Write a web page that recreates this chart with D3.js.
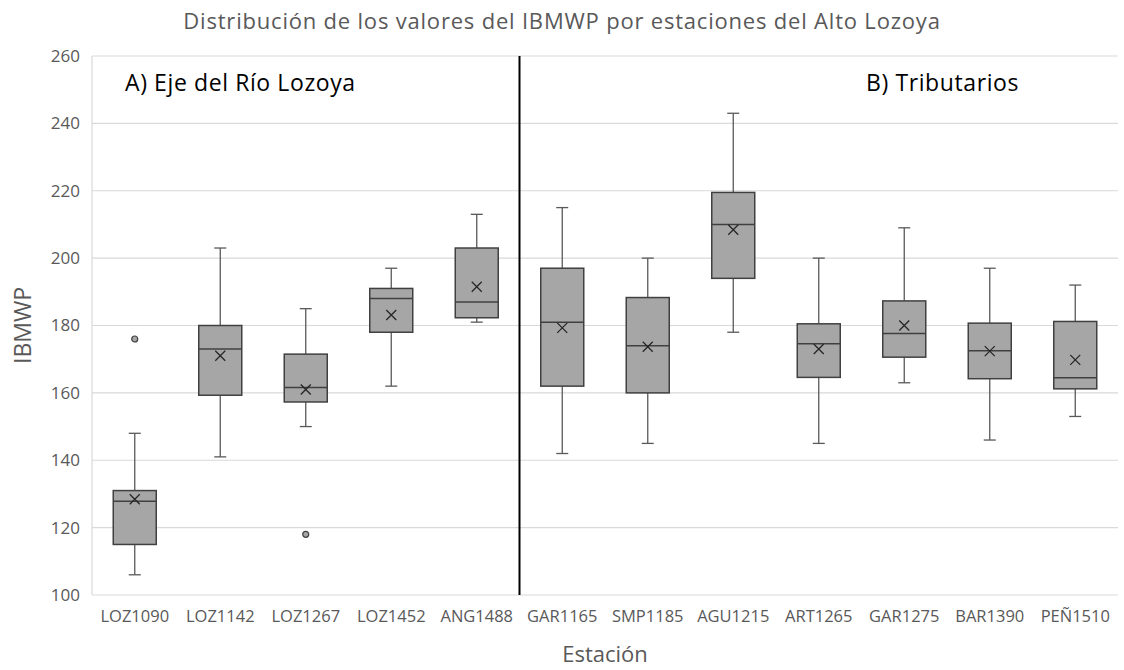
<!DOCTYPE html>
<html lang="es">
<head>
<meta charset="UTF-8">
<title>IBMWP Alto Lozoya</title>
<script src="https://d3js.org/d3.v7.min.js"></script>
<style>
  body { margin: 0; background: #fff; }
  text { font-family: "Open Sans", "Noto Sans", sans-serif; }
</style>
</head>
<body>
<div id="chart"></div>
<script>
// estaciones y estadisticos
const stations = ["LOZ1090", "LOZ1142", "LOZ1267", "LOZ1452", "ANG1488", "GAR1165",
                  "SMP1185", "AGU1215", "ART1265", "GAR1275", "BAR1390", "PEÑ1510"];
const whiskerLow  = [106, 141, 150, 162, 181, 142, 145, 178, 145, 163, 146, 153];
const q1          = [115, 159.3, 157.3, 178, 182.3, 162, 160, 194, 164.6, 170.6, 164.2, 161.2];
const median      = [127.8, 173, 161.6, 188, 187, 181, 174, 210, 174.6, 177.6, 172.5, 164.5];
const q3          = [131, 180, 171.5, 191, 203, 197, 188.3, 219.5, 180.5, 187.3, 180.7, 181.2];
const whiskerHigh = [148, 203, 185, 197, 213, 215, 200, 243, 200, 209, 197, 192];
const mean        = [128.4, 171, 161, 183.1, 191.5, 179.3, 173.7, 208.4, 173, 180, 172.4, 169.8];
const outliers    = [[176], [], [118], [], [], [], [], [], [], [], [], []];
const yTicks = [100, 120, 140, 160, 180, 200, 220, 240, 260];

const width = 1124, height = 670;
const margin = {top: 56, right: 6, bottom: 75, left: 92};

const svg = d3.select("#chart").append("svg")
    .attr("width", width)
    .attr("height", height);

const x = d3.scaleBand()
    .domain(stations)
    .range([margin.left, width - margin.right]);

const y = d3.scaleLinear()
    .domain([100, 260])
    .range([height - margin.bottom, margin.top]);

// rejilla
svg.append("g")
    .selectAll("line")
    .data(yTicks)
    .join("line")
    .attr("x1", margin.left)
    .attr("x2", width - margin.right)
    .attr("y1", d => y(d))
    .attr("y2", d => y(d))
    .attr("stroke", "#d9d9d9")
    .attr("stroke-width", 1.2);

svg.append("line")
    .attr("x1", margin.left).attr("x2", margin.left)
    .attr("y1", y(260)).attr("y2", y(100))
    .attr("stroke", "#d9d9d9")
    .attr("stroke-width", 1.2);

// eje y
const yAxis = svg.append("g")
    .attr("transform", `translate(${margin.left},0)`)
    .call(d3.axisLeft(y).tickValues(yTicks).tickSize(0).tickPadding(12));
yAxis.select(".domain").remove();
yAxis.selectAll("text")
    .attr("fill", "#595959")
    .style("font-size", "17px")
    .style("font-family", "'Open Sans', sans-serif");

// eje x
const xAxis = svg.append("g")
    .attr("transform", `translate(0,${y(100)})`)
    .call(d3.axisBottom(x).tickSize(0).tickPadding(15));
xAxis.select(".domain").remove();
xAxis.selectAll("text")
    .attr("fill", "#595959")
    .style("font-size", "16.5px")
    .style("font-family", "'Open Sans', sans-serif");

// separador entre grupos
const sepX = x("GAR1165");
svg.append("line")
    .attr("x1", sepX).attr("x2", sepX)
    .attr("y1", y(260)).attr("y2", y(100))
    .attr("stroke", "#000")
    .attr("stroke-width", 2);

const boxW = 43, capW = 12;
const boxes = svg.append("g")
    .selectAll("g")
    .data(stations)
    .join("g")
    .attr("transform", d => `translate(${x(d) + x.bandwidth() / 2},0)`);

// bigotes
boxes.append("line")
    .attr("y1", (d, i) => y(whiskerHigh[i]))
    .attr("y2", (d, i) => y(q3[i]))
    .attr("stroke", "#595959").attr("stroke-width", 1.3);
boxes.append("line")
    .attr("y1", (d, i) => y(q1[i]))
    .attr("y2", (d, i) => y(whiskerLow[i]))
    .attr("stroke", "#595959").attr("stroke-width", 1.3);
boxes.append("line")
    .attr("x1", -capW / 2).attr("x2", capW / 2)
    .attr("y1", (d, i) => y(whiskerHigh[i]))
    .attr("y2", (d, i) => y(whiskerHigh[i]))
    .attr("stroke", "#595959").attr("stroke-width", 1.3);
boxes.append("line")
    .attr("x1", -capW / 2).attr("x2", capW / 2)
    .attr("y1", (d, i) => y(whiskerLow[i]))
    .attr("y2", (d, i) => y(whiskerLow[i]))
    .attr("stroke", "#595959").attr("stroke-width", 1.3);

// cajas
boxes.append("rect")
    .attr("x", -boxW / 2)
    .attr("width", boxW)
    .attr("y", (d, i) => y(q3[i]))
    .attr("height", (d, i) => y(q1[i]) - y(q3[i]))
    .attr("fill", "#a6a6a6")
    .attr("stroke", "#404040")
    .attr("stroke-width", 1.5);

boxes.append("line")
    .attr("x1", -boxW / 2).attr("x2", boxW / 2)
    .attr("y1", (d, i) => y(median[i]))
    .attr("y2", (d, i) => y(median[i]))
    .attr("stroke", "#404040").attr("stroke-width", 1.5);

// media (X)
const m = 5;
boxes.append("path")
    .attr("d", (d, i) => {
        const cy = y(mean[i]);
        return `M${-m},${cy - m}L${m},${cy + m}M${-m},${cy + m}L${m},${cy - m}`;
    })
    .attr("stroke", "#262626")
    .attr("stroke-width", 1.3)
    .attr("fill", "none");

// valores atipicos
boxes.selectAll("circle")
    .data((d, i) => outliers[i])
    .join("circle")
    .attr("cy", v => y(v))
    .attr("r", 3)
    .attr("fill", "#a6a6a6")
    .attr("stroke", "#404040")
    .attr("stroke-width", 1.2);

// textos
svg.append("text")
    .attr("x", 562).attr("y", 29)
    .attr("text-anchor", "middle")
    .attr("fill", "#595959")
    .style("font-size", "22px")
    .style("letter-spacing", "0.8px")
    .text("Distribución de los valores del IBMWP por estaciones del Alto Lozoya");

svg.append("text")
    .attr("transform", `translate(31,${(y(100) + y(260)) / 2}) rotate(-90)`)
    .attr("text-anchor", "middle")
    .attr("fill", "#595959")
    .style("font-size", "23px")
    .text("IBMWP");

svg.append("text")
    .attr("x", (margin.left + width - margin.right) / 2)
    .attr("y", 662)
    .attr("text-anchor", "middle")
    .attr("fill", "#595959")
    .style("font-size", "22px")
    .text("Estación");

svg.append("text")
    .attr("x", 125).attr("y", 91)
    .attr("fill", "#000")
    .style("font-size", "23px")
    .style("letter-spacing", "0.6px")
    .text("A) Eje del Río Lozoya");

svg.append("text")
    .attr("x", 866).attr("y", 91)
    .attr("fill", "#000")
    .style("font-size", "23px")
    .style("letter-spacing", "0.6px")
    .text("B) Tributarios");
</script>
</body>
</html>
